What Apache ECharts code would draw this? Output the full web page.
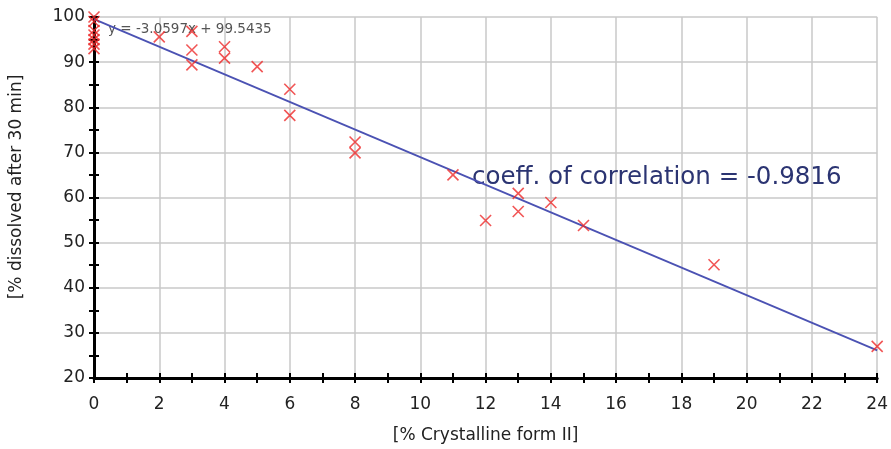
<!DOCTYPE html>
<html><head><meta charset="utf-8">
<script src="https://cdn.jsdelivr.net/npm/echarts@6/dist/echarts.min.js"></script>
<style>html,body{margin:0;padding:0;background:#fff}#c{width:891px;height:449px}</style>
</head><body><div id="c"></div>
<script>
const crystallineX = [0,0,0,0,0,0,0, 2, 3,3,3, 4,4, 5, 6,6, 8,8, 11, 12, 13,13, 14, 15, 19, 24];
const dissolvedY  = [100,99,97,96,95,94,93, 95.6, 96.8,92.7,89.4, 93.4,90.9, 89.0, 84.0,78.2, 72.3,69.9, 65.0, 54.9, 60.9,56.9, 58.9, 53.8, 45.1, 27.0];
const trendX = [0, 24];
const trendY = [99.54, 26.11];
const xTicks = [0,2,4,6,8,10,12,14,16,18,20,22,24];
const yTicks = [20,30,40,50,60,70,80,90,100];
const equationText = 'y = -3.0597x + 99.5435';
const corrText = 'coeff. of correlation = -0.9816';
const xTitle = '[% Crystalline form II]';
const yTitle = '[% dissolved after 30 min]';

const font = 'DejaVu Sans, Arial, sans-serif';
const chart = echarts.init(document.getElementById('c'), null, {renderer:'canvas'});
const scatterData = crystallineX.map((x,i)=>[x, dissolvedY[i]]);
const trendData = trendX.map((x,i)=>[x, trendY[i]]);
const commonX = {type:'value', min:xTicks[0], max:xTicks[xTicks.length-1], interval:2};
const commonY = {type:'value', min:yTicks[0], max:yTicks[yTicks.length-1], interval:10};
chart.setOption({
  animation:false,
  grid:{left:94, right:11, top:17, bottom:69},
  xAxis:[
    Object.assign({}, commonX, {
      axisLine:{show:true, onZero:false, lineStyle:{color:'#000', width:3}},
      axisTick:{show:true, length:5, lineStyle:{color:'#000', width:2}},
      minorTick:{show:true, splitNumber:2, length:5, lineStyle:{color:'#000', width:2}},
      axisLabel:{color:'#222', fontSize:17, fontFamily:font, margin:18},
      splitLine:{show:true, lineStyle:{color:'#c8c8c8', width:1.5}},
      name:xTitle, nameLocation:'middle', nameGap:49,
      nameTextStyle:{color:'#222', fontSize:17, fontFamily:font}
    }),
    Object.assign({}, commonX, {
      position:'bottom',
      axisLine:{show:false},
      axisTick:{show:true, inside:true, length:5, lineStyle:{color:'#000', width:2}},
      minorTick:{show:true, splitNumber:2, length:5, lineStyle:{color:'#000', width:2}},
      axisLabel:{show:false}, splitLine:{show:false}
    })
  ],
  yAxis:[
    Object.assign({}, commonY, {
      axisLine:{show:true, onZero:false, lineStyle:{color:'#000', width:3}},
      axisTick:{show:true, length:5, lineStyle:{color:'#000', width:2}},
      minorTick:{show:true, splitNumber:2, length:5, lineStyle:{color:'#000', width:2}},
      axisLabel:{color:'#222', fontSize:17, fontFamily:font, margin:9},
      splitLine:{show:true, lineStyle:{color:'#c8c8c8', width:1.5}}
    }),
    Object.assign({}, commonY, {
      position:'left',
      axisLine:{show:false},
      axisTick:{show:true, inside:true, length:5, lineStyle:{color:'#000', width:2}},
      minorTick:{show:true, splitNumber:2, length:5, lineStyle:{color:'#000', width:2}},
      axisLabel:{show:false}, splitLine:{show:false}
    })
  ],
  graphic:[
    {type:'text', x:17, y:187, rotation:Math.PI/2, z:5,
     style:{text:yTitle, fill:'#222', fontSize:17, fontFamily:font, align:'center', verticalAlign:'middle'}},
    {type:'text', left:108, top:22, z:1, style:{text:equationText, fill:'#555', fontSize:13.5, fontFamily:font}},
    {type:'text', x:472, y:178, z:1, style:{text:corrText, fill:'#2b3472', fontSize:24.5, fontFamily:font, align:'left', verticalAlign:'middle'}}
  ],
  series:[
    {type:'line', data:trendData, symbol:'none', z:3,
     lineStyle:{color:'#4b52b3', width:1.8}},
    {type:'scatter', data:scatterData, z:4,
     symbol:'path://M0,0 L10,10 M10,0 L0,10', symbolSize:11,
     itemStyle:{color:'transparent', borderColor:'#ee2b2b', borderWidth:1.6}}
  ]
});
</script></body></html>
